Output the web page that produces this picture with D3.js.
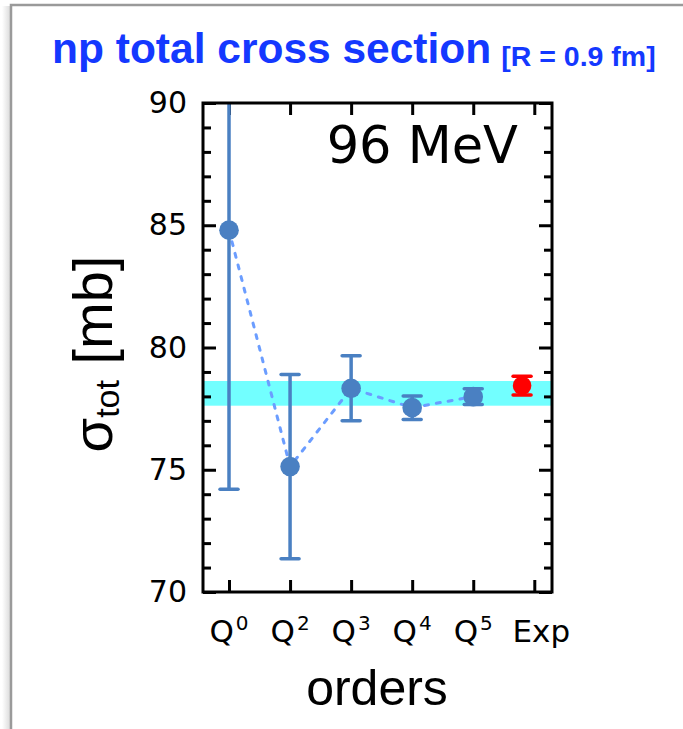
<!DOCTYPE html>
<html>
<head>
<meta charset="utf-8">
<script src="https://cdn.jsdelivr.net/npm/d3@7"></script>
<style>
  html, body { margin: 0; padding: 0; background: #fff; }
  svg { display: block; }
</style>
</head>
<body>
<svg id="chart" width="683" height="729"></svg>
<script>
// Expansion orders and the chiral-EFT total cross section at each order
const orders = ["Q0", "Q2", "Q3", "Q4", "Q5"];
const orderExponents = ["0", "2", "3", "4", "5"];
const sigmaValues = [84.8, 75.13, 78.33, 77.54, 77.99];
const sigmaErrors = [10.6, 3.77, 1.33, 0.48, 0.32];

// Experimental value, placed just left of the "Exp" tick
const expPosition = 4.8;
const expValue = 78.44;
const expError = 0.38;

// Band showing the experimental range
const bandRange = [77.62, 78.63];

// Axis ticks
const xTickLabels = ["Q", "Q", "Q", "Q", "Q", "Exp"];
const yMajorTicks = [70, 75, 80, 85, 90];
const yMinorTicks = d3.range(70, 91, 1);

const svg = d3.select("#chart");
const W = 683, H = 729;
const plot = { left: 203, right: 552, top: 103, bottom: 592 };

const BLUE = "#4a80c2";
const DASH = "#6b9dff";
const TITLE_BLUE = "#1438ff";

// Page frame with a soft shadow on the left
const defs = svg.append("defs");
const grad = defs.append("linearGradient").attr("id", "shade").attr("x1", 0).attr("x2", 1);
grad.append("stop").attr("offset", 0).attr("stop-color", "#fff");
grad.append("stop").attr("offset", 1).attr("stop-color", "#dcdcdc");
svg.append("rect").attr("x", 2).attr("y", 6).attr("width", 8).attr("height", H - 6).attr("fill", "url(#shade)");
svg.append("path")
  .attr("d", `M11,${H} V5 H${W}`)
  .attr("fill", "none").attr("stroke", "#9a9a9a").attr("stroke-width", 2.5);

// Title
const title = svg.append("text")
  .attr("x", 52).attr("y", 63)
  .attr("font-family", "'Liberation Sans', Arial, Helvetica, sans-serif")
  .attr("font-weight", "bold").attr("fill", TITLE_BLUE);
title.append("tspan").attr("font-size", 42.5).text("np total cross section");
title.append("tspan").attr("font-size", 28.5).attr("dx", 10).attr("dy", 3).text("[R = 0.9 fm]");

// Scales
const x = d3.scaleLinear().domain([-0.426, 5.29]).range([plot.left, plot.right]);
const y = d3.scaleLinear().domain([70, 90]).range([plot.bottom, plot.top]);

defs.append("clipPath").attr("id", "plotClip")
  .append("rect").attr("x", plot.left).attr("y", plot.top)
  .attr("width", plot.right - plot.left).attr("height", plot.bottom - plot.top);

// Experimental band (under the ticks)
svg.append("rect")
  .attr("x", plot.left).attr("width", plot.right - plot.left)
  .attr("y", y(bandRange[1])).attr("height", y(bandRange[0]) - y(bandRange[1]))
  .attr("fill", "#72ffff");

// Axes: ticks point inward on all four sides
const tickFont = "'DejaVu Sans', Verdana, sans-serif";
const axes = svg.append("g");

const yLeft = axes.append("g").attr("transform", `translate(${plot.left},0)`)
  .call(d3.axisLeft(y).tickValues(yMajorTicks).tickSize(-13).tickPadding(16).tickFormat(d3.format("d")));
axes.append("g").attr("transform", `translate(${plot.left},0)`)
  .call(d3.axisLeft(y).tickValues(yMinorTicks.filter(v => v % 5)).tickSize(-8).tickFormat(""));
axes.append("g").attr("transform", `translate(${plot.right},0)`)
  .call(d3.axisRight(y).tickValues(yMajorTicks).tickSize(-13).tickFormat(""));
axes.append("g").attr("transform", `translate(${plot.right},0)`)
  .call(d3.axisRight(y).tickValues(yMinorTicks.filter(v => v % 5)).tickSize(-8).tickFormat(""));

const xTicks = d3.range(xTickLabels.length);
axes.append("g").attr("transform", `translate(0,${plot.bottom})`)
  .call(d3.axisBottom(x).tickValues(xTicks).tickSize(-12).tickFormat(""));
axes.append("g").attr("transform", `translate(0,${plot.top})`)
  .call(d3.axisTop(x).tickValues(xTicks).tickSize(-12).tickFormat(""));

axes.selectAll(".domain").remove();
axes.selectAll(".tick line").attr("stroke", "#000").attr("stroke-width", 3);
yLeft.selectAll(".tick text")
  .attr("font-family", tickFont).attr("font-size", 30).attr("fill", "#000");

// Data marks, drawn over the ticks
const g = svg.append("g").attr("clip-path", "url(#plotClip)");

// Dotted line joining the orders
const idx = d3.range(orders.length);
g.append("path")
  .datum(idx)
  .attr("d", d3.line().x(i => x(i)).y(i => y(sigmaValues[i])))
  .attr("fill", "none").attr("stroke", DASH).attr("stroke-width", 3)
  .attr("stroke-dasharray", "4 8").attr("stroke-linecap", "round");

// Error bars with caps
function errorBar(sel, cx, val, err, color) {
  const capW = 9;
  sel.append("line").attr("x1", cx).attr("x2", cx)
    .attr("y1", y(val - err)).attr("y2", y(val + err))
    .attr("stroke", color).attr("stroke-width", 3.5);
  [val - err, val + err].forEach(v => {
    sel.append("line").attr("x1", cx - capW).attr("x2", cx + capW)
      .attr("y1", y(v)).attr("y2", y(v))
      .attr("stroke", color).attr("stroke-width", 3.5).attr("stroke-linecap", "round");
  });
}

idx.forEach(i => errorBar(g, x(i), sigmaValues[i], sigmaErrors[i], BLUE));
g.selectAll("circle.order").data(idx).join("circle")
  .attr("class", "order")
  .attr("cx", i => x(i)).attr("cy", i => y(sigmaValues[i]))
  .attr("r", 9.8).attr("fill", BLUE);

errorBar(g, x(expPosition), expValue, expError, "#ff0000");
g.append("circle").attr("cx", x(expPosition)).attr("cy", y(expValue))
  .attr("r", 9.3).attr("fill", "#ff0000");

// Plot frame
svg.append("rect")
  .attr("x", plot.left).attr("y", plot.top)
  .attr("width", plot.right - plot.left).attr("height", plot.bottom - plot.top)
  .attr("fill", "none").attr("stroke", "#000").attr("stroke-width", 3);

// Category labels with superscript exponents
const xl = svg.append("g").attr("font-family", tickFont).attr("fill", "#000");
xTicks.forEach(i => {
  const t = xl.append("text")
    .attr("x", x(i) + (i === 5 ? 7 : 0)).attr("y", 642)
    .attr("text-anchor", "middle").attr("font-size", 31);
  t.append("tspan").text(xTickLabels[i]);
  if (i < orderExponents.length) {
    t.append("tspan").attr("font-size", 20).attr("dx", 2).attr("dy", -12).text(orderExponents[i]);
  }
});

// Axis titles
svg.append("text")
  .attr("x", 377).attr("y", 705).attr("text-anchor", "middle")
  .attr("font-family", "'Liberation Sans', Arial, Helvetica, sans-serif")
  .attr("font-size", 50).attr("fill", "#000").text("orders");

const yl = svg.append("text")
  .attr("transform", "translate(112,354) rotate(-90)")
  .attr("text-anchor", "middle")
  .attr("font-family", "'Liberation Sans', Arial, Helvetica, sans-serif")
  .attr("font-size", 56).attr("fill", "#000");
yl.append("tspan").text("σ");
yl.append("tspan").attr("font-size", 34).attr("dy", 7).text("tot");
yl.append("tspan").attr("dy", -7).text(" [mb]");

// Energy label
svg.append("text")
  .attr("x", 518).attr("y", 163).attr("text-anchor", "end")
  .attr("font-family", tickFont).attr("font-size", 51).attr("fill", "#000")
  .text("96 MeV");
</script>
</body>
</html>
